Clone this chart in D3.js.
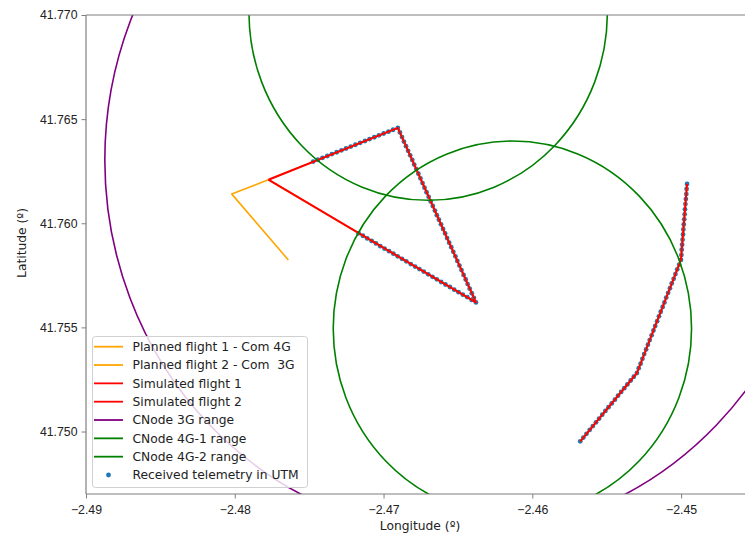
<!DOCTYPE html>
<html>
<head>
<meta charset="utf-8">
<script src="https://cdn.jsdelivr.net/npm/d3@7"></script>
<style>
  body { margin: 0; background: #fff; }
  svg { display: block; font-family: "DejaVu Sans", sans-serif; }
  .tick text { font-size: 12.3px; fill: #222; }
  .axis-label { font-size: 12.3px; fill: #222; }
  .legend text { font-size: 12.3px; fill: #222; }
</style>
</head>
<body>
<svg id="map-svg" width="745" height="533"></svg>
<script>
// Axis ticks
const xTicks = [-2.49, -2.48, -2.47, -2.46, -2.45];
const yTicks = [41.750, 41.755, 41.760, 41.765, 41.770];

// Planned flights [lon, lat]
const planned1 = [[-2.47640, 41.75824], [-2.48020, 41.76140], [-2.47774, 41.76209],
  [-2.46904, 41.76458], [-2.46379, 41.75620], [-2.47774, 41.76209]];
const planned2 = [[-2.45678, 41.74953], [-2.45297, 41.75281], [-2.45001, 41.75824], [-2.44960, 41.76189]];

// Simulated flights
const simulated1 = [[-2.47774, 41.76209], [-2.46904, 41.76458], [-2.46379, 41.75620], [-2.47774, 41.76209]];
const simulated2 = [[-2.45678, 41.74953], [-2.45297, 41.75281], [-2.45001, 41.75824], [-2.44960, 41.76189]];

// Coverage ranges: centre and radius in metres
const node3G = { lon: -2.46465, lat: 41.76304, radius: 2000 };
const node4G1 = { lon: -2.46700, lat: 41.77010, radius: 1000 };
const node4G2 = { lon: -2.46134, lat: 41.75495, radius: 1000 };

// Received telemetry in UTM, read along the tracks
const telemetryLon = [
  -2.47473, -2.47441, -2.47410, -2.47378, -2.47347, -2.47315, -2.47283, -2.47252, -2.47220, -2.47189,
  -2.47157, -2.47125, -2.47094, -2.47062, -2.47031, -2.46999, -2.46967, -2.46936, -2.46904,
  -2.46890, -2.46876, -2.46863, -2.46849, -2.46835, -2.46821, -2.46807, -2.46794, -2.46780, -2.46766,
  -2.46752, -2.46738, -2.46725, -2.46711, -2.46697, -2.46683, -2.46669, -2.46655, -2.46642, -2.46628,
  -2.46614, -2.46600, -2.46586, -2.46573, -2.46559, -2.46545, -2.46531, -2.46517, -2.46504, -2.46490,
  -2.46476, -2.46462, -2.46448, -2.46435, -2.46421, -2.46407, -2.46393, -2.46379,
  -2.46408, -2.46437, -2.46467, -2.46496, -2.46525, -2.46554, -2.46584, -2.46613, -2.46642, -2.46671,
  -2.46700, -2.46730, -2.46759, -2.46788, -2.46817, -2.46847, -2.46876, -2.46905, -2.46934, -2.46963,
  -2.46993, -2.47022, -2.47051, -2.47080, -2.47110, -2.47139, -2.47168,
  -2.45678, -2.45657, -2.45636, -2.45614, -2.45593, -2.45572, -2.45551, -2.45530, -2.45509, -2.45488,
  -2.45466, -2.45445, -2.45424, -2.45403, -2.45382, -2.45361, -2.45339, -2.45318, -2.45297,
  -2.45285, -2.45272, -2.45260, -2.45248, -2.45235, -2.45223, -2.45211, -2.45198, -2.45186, -2.45174,
  -2.45161, -2.45149, -2.45137, -2.45124, -2.45112, -2.45100, -2.45087, -2.45075, -2.45063, -2.45050,
  -2.45038, -2.45026, -2.45013, -2.45001,
  -2.44998, -2.44996, -2.44993, -2.44990, -2.44987, -2.44985, -2.44982, -2.44979, -2.44976, -2.44974,
  -2.44971, -2.44968, -2.44965, -2.44963, -2.44960
];
const telemetryLat = [
  41.76296, 41.76305, 41.76314, 41.76323, 41.76332, 41.76341, 41.76350, 41.76359, 41.76368, 41.76377,
  41.76386, 41.76395, 41.76404, 41.76413, 41.76422, 41.76431, 41.76440, 41.76449, 41.76458,
  41.76436, 41.76414, 41.76392, 41.76370, 41.76348, 41.76326, 41.76304, 41.76282, 41.76260, 41.76238,
  41.76216, 41.76193, 41.76171, 41.76149, 41.76127, 41.76105, 41.76083, 41.76061, 41.76039, 41.76017,
  41.75995, 41.75973, 41.75951, 41.75929, 41.75907, 41.75885, 41.75863, 41.75841, 41.75819, 41.75797,
  41.75775, 41.75752, 41.75730, 41.75708, 41.75686, 41.75664, 41.75642, 41.75620,
  41.75632, 41.75645, 41.75657, 41.75669, 41.75681, 41.75694, 41.75706, 41.75718, 41.75731, 41.75743,
  41.75755, 41.75768, 41.75780, 41.75792, 41.75804, 41.75817, 41.75829, 41.75841, 41.75854, 41.75866,
  41.75878, 41.75890, 41.75903, 41.75915, 41.75927, 41.75940, 41.75952,
  41.74953, 41.74971, 41.74989, 41.75008, 41.75026, 41.75044, 41.75062, 41.75081, 41.75099, 41.75117,
  41.75135, 41.75153, 41.75172, 41.75190, 41.75208, 41.75226, 41.75245, 41.75263, 41.75281,
  41.75304, 41.75326, 41.75349, 41.75372, 41.75394, 41.75417, 41.75439, 41.75462, 41.75485, 41.75507,
  41.75530, 41.75553, 41.75575, 41.75598, 41.75620, 41.75643, 41.75666, 41.75688, 41.75711, 41.75733,
  41.75756, 41.75779, 41.75801, 41.75824,
  41.75848, 41.75873, 41.75897, 41.75921, 41.75946, 41.75970, 41.75994, 41.76019, 41.76043, 41.76067,
  41.76092, 41.76116, 41.76140, 41.76165, 41.76189
];

const legendLabels = [
  'Planned flight 1 - Com 4G', 'Planned flight 2 - Com  3G', 'Simulated flight 1',
  'Simulated flight 2', 'CNode 3G range', 'CNode 4G-1 range', 'CNode 4G-2 range',
  'Received telemetry in UTM'
];

const colors = {
  planned: '#ffa500', simulated: '#ff0000', node3G: '#800080',
  node4G: '#008000', telemetry: '#1f77b4'
};
const spine = '#7f7f7f';

// metres per degree at this latitude
const mPerDegLat = 111132;
const mPerDegLon = 111320 * Math.cos(41.76 * Math.PI / 180);

const svg = d3.select('#map-svg');
const plotLeft = 86, plotTop = 15, plotRight = 754, plotBottom = 494;

const x = d3.scaleLinear().domain([-2.49, -2.4451]).range([plotLeft, plotRight]);
const y = d3.scaleLinear().domain([41.747, 41.770]).range([plotBottom, plotTop]);

svg.append('defs').append('clipPath').attr('id', 'plot-clip')
  .append('rect').attr('x', plotLeft).attr('y', plotTop)
  .attr('width', plotRight - plotLeft).attr('height', plotBottom - plotTop);

const plot = svg.append('g').attr('clip-path', 'url(#plot-clip)');

// Telemetry dots
const telemetry = telemetryLon.map((lon, i) => [lon, telemetryLat[i]]);
plot.append('g').selectAll('circle')
  .data(telemetry).enter().append('circle')
  .attr('cx', (d) => x(d[0]))
  .attr('cy', (d) => y(d[1]))
  .attr('r', 2.4)
  .attr('fill', colors.telemetry);

const line = d3.line().x((d) => x(d[0])).y((d) => y(d[1]));

[planned1, planned2].forEach((p) => {
  plot.append('path').attr('d', line(p)).attr('fill', 'none')
    .attr('stroke', colors.planned).attr('stroke-width', 1.6)
    .attr('stroke-linejoin', 'round');
});
[simulated1, simulated2].forEach((p) => {
  plot.append('path').attr('d', line(p)).attr('fill', 'none')
    .attr('stroke', colors.simulated).attr('stroke-width', 2)
    .attr('stroke-linejoin', 'round');
});

// Coverage ranges
function drawRange(node, color) {
  const rLon = node.radius / mPerDegLon;
  const rLat = node.radius / mPerDegLat;
  plot.append('ellipse')
    .attr('cx', x(node.lon))
    .attr('cy', y(node.lat))
    .attr('rx', x(node.lon + rLon) - x(node.lon))
    .attr('ry', y(node.lat) - y(node.lat + rLat))
    .attr('fill', 'none')
    .attr('stroke', color)
    .attr('stroke-width', 1.6);
}
drawRange(node3G, colors.node3G);
drawRange(node4G1, colors.node4G);
drawRange(node4G2, colors.node4G);

// Axes
const xAxis = svg.append('g')
  .attr('transform', 'translate(0,' + plotBottom + ')')
  .call(d3.axisBottom(x).tickValues(xTicks).tickFormat(d3.format('.2f')).tickSizeOuter(0).tickSize(4.5).tickPadding(4));
const yAxis = svg.append('g')
  .attr('transform', 'translate(' + plotLeft + ',0)')
  .call(d3.axisLeft(y).tickValues(yTicks).tickFormat(d3.format('.3f')).tickSizeOuter(0).tickSize(4.5).tickPadding(4));
[xAxis, yAxis].forEach((a) => {
  a.select('.domain').remove();
  a.selectAll('.tick line').attr('stroke', spine).attr('stroke-width', 1);
  a.selectAll('.tick text').attr('font-family', null).attr('font-size', null);
});
xAxis.selectAll('.tick text').attr('dy', '0.95em');

// Spines
svg.append('line').attr('x1', plotLeft).attr('x2', 745).attr('y1', plotTop).attr('y2', plotTop)
  .attr('stroke', spine).attr('stroke-width', 1.2);
svg.append('line').attr('x1', plotLeft).attr('x2', 745).attr('y1', plotBottom).attr('y2', plotBottom)
  .attr('stroke', spine).attr('stroke-width', 1.2);
svg.append('line').attr('x1', plotLeft).attr('x2', plotLeft).attr('y1', plotTop).attr('y2', plotBottom)
  .attr('stroke', spine).attr('stroke-width', 1.2);

// Axis labels
svg.append('text').attr('class', 'axis-label')
  .attr('x', 420).attr('y', 530).attr('text-anchor', 'middle')
  .text('Longitude (º)');
svg.append('text').attr('class', 'axis-label')
  .attr('transform', 'translate(26,243) rotate(-90)')
  .attr('text-anchor', 'middle')
  .text('Latitude (º)');

// Legend
const legend = svg.append('g').attr('class', 'legend');
legend.append('rect')
  .attr('x', 92.5).attr('y', 336.5).attr('width', 215).attr('height', 151)
  .attr('rx', 3).attr('fill', 'white').attr('fill-opacity', 0.8)
  .attr('stroke', '#d0d0d0').attr('stroke-width', 1);
const legendColors = [colors.planned, colors.planned, colors.simulated, colors.simulated,
  colors.node3G, colors.node4G, colors.node4G, colors.telemetry];
legendLabels.forEach((label, i) => {
  const ly = 346.7 + i * 18.33;
  if (i < 7) {
    legend.append('line').attr('x1', 94).attr('x2', 123).attr('y1', ly).attr('y2', ly)
      .attr('stroke', legendColors[i]).attr('stroke-width', 1.8);
  } else {
    legend.append('circle').attr('cx', 108.5).attr('cy', ly).attr('r', 2.4)
      .attr('fill', legendColors[i]);
  }
  legend.append('text').attr('x', 132.5).attr('y', ly).attr('dy', '0.35em')
    .attr('xml:space', 'preserve').style('white-space', 'pre').text(label);
});
</script>
</body>
</html>
